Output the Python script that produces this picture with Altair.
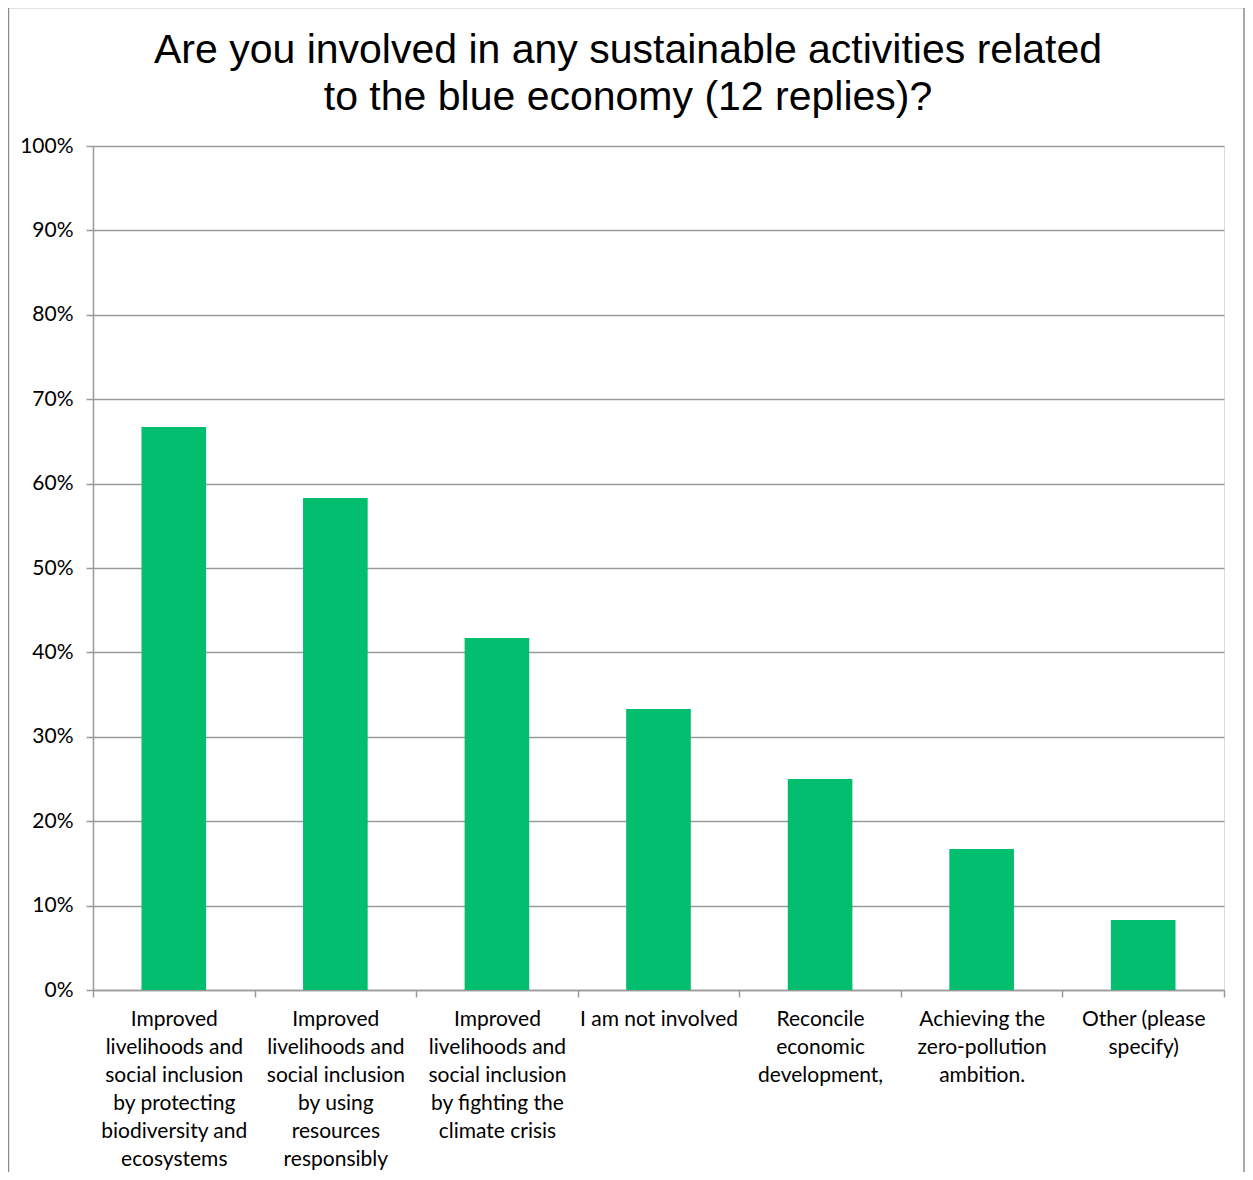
import altair as alt
import pandas as pd

title_lines = ["Are you involved in any sustainable activities related",
               "to the blue economy (12 replies)?"]
categories = [
    "Improved|livelihoods and|social inclusion|by protecting|biodiversity and|ecosystems",
    "Improved|livelihoods and|social inclusion|by using|resources|responsibly",
    "Improved|livelihoods and|social inclusion|by fighting the|climate crisis",
    "I am not involved",
    "Reconcile|economic|development,",
    "Achieving the|zero-pollution|ambition.",
    "Other (please|specify)",
]
values = [0.667, 0.583, 0.417, 0.333, 0.25, 0.167, 0.083]
y_ticks = [0, 0.1, 0.2, 0.3, 0.4, 0.5, 0.6, 0.7, 0.8, 0.9, 1.0]

df = pd.DataFrame({"cat": categories, "val": values})
GRAY = "#9a9a9a"
LABEL_FONT = "Lato"

base = alt.Chart(df)

bars = base.mark_bar(color="#02BE6E", width=alt.RelativeBandSize(0.4)).encode(
    x=alt.X("cat:N", sort=None, title=None,
            scale=alt.Scale(paddingInner=0, paddingOuter=0),
            axis=alt.Axis(labelExpr="split(datum.label, '|')", labelAngle=0,
                          labelLineHeight=28, labelFontSize=21, labelFont=LABEL_FONT,
                          labelColor="black", labelPadding=11, tickBand="extent",
                          tickSize=7, tickColor=GRAY, domainColor=GRAY, domainWidth=1.5,
                          tickWidth=1.5, grid=False, labelBaseline="top",
                          labelLimit=300)),
    y=alt.Y("val:Q", title=None,
            scale=alt.Scale(domain=[0, 1], nice=False),
            axis=alt.Axis(values=y_ticks, format=".0%", labelFontSize=21,
                          labelFont=LABEL_FONT, labelColor="black", labelPadding=13,
                          tickSize=7, tickColor=GRAY, tickWidth=1.5,
                          domainColor=GRAY, domainWidth=1.5,
                          gridColor=GRAY, gridWidth=1.5)),
)

title_df = pd.DataFrame({"t": ["\n".join(title_lines)]})
title = alt.Chart(title_df).mark_text(
    font="Liberation Sans", fontSize=41, lineHeight=47, align="center",
    baseline="alphabetic", lineBreak="\n", color="black",
).encode(x=alt.value(535), y=alt.value(-83), text="t:N")

frame = alt.Chart(title_df).mark_rect(
    fill=None, stroke="#8c8c8c", strokeWidth=1.5, clip=False,
).encode(x=alt.value(-84.5), x2=alt.value(1151), y=alt.value(-138.5), y2=alt.value(1100))

chart = alt.layer(frame, bars, title).properties(
    width=1131, height=844,
    padding={"left": 85, "top": 138, "right": 21, "bottom": 182},
    autosize=alt.AutoSizeParams(type="none"),
).configure_view(stroke=None).configure(background="white")

chart.save("out.html", embed_options={"renderer": "svg", "actions": False})
